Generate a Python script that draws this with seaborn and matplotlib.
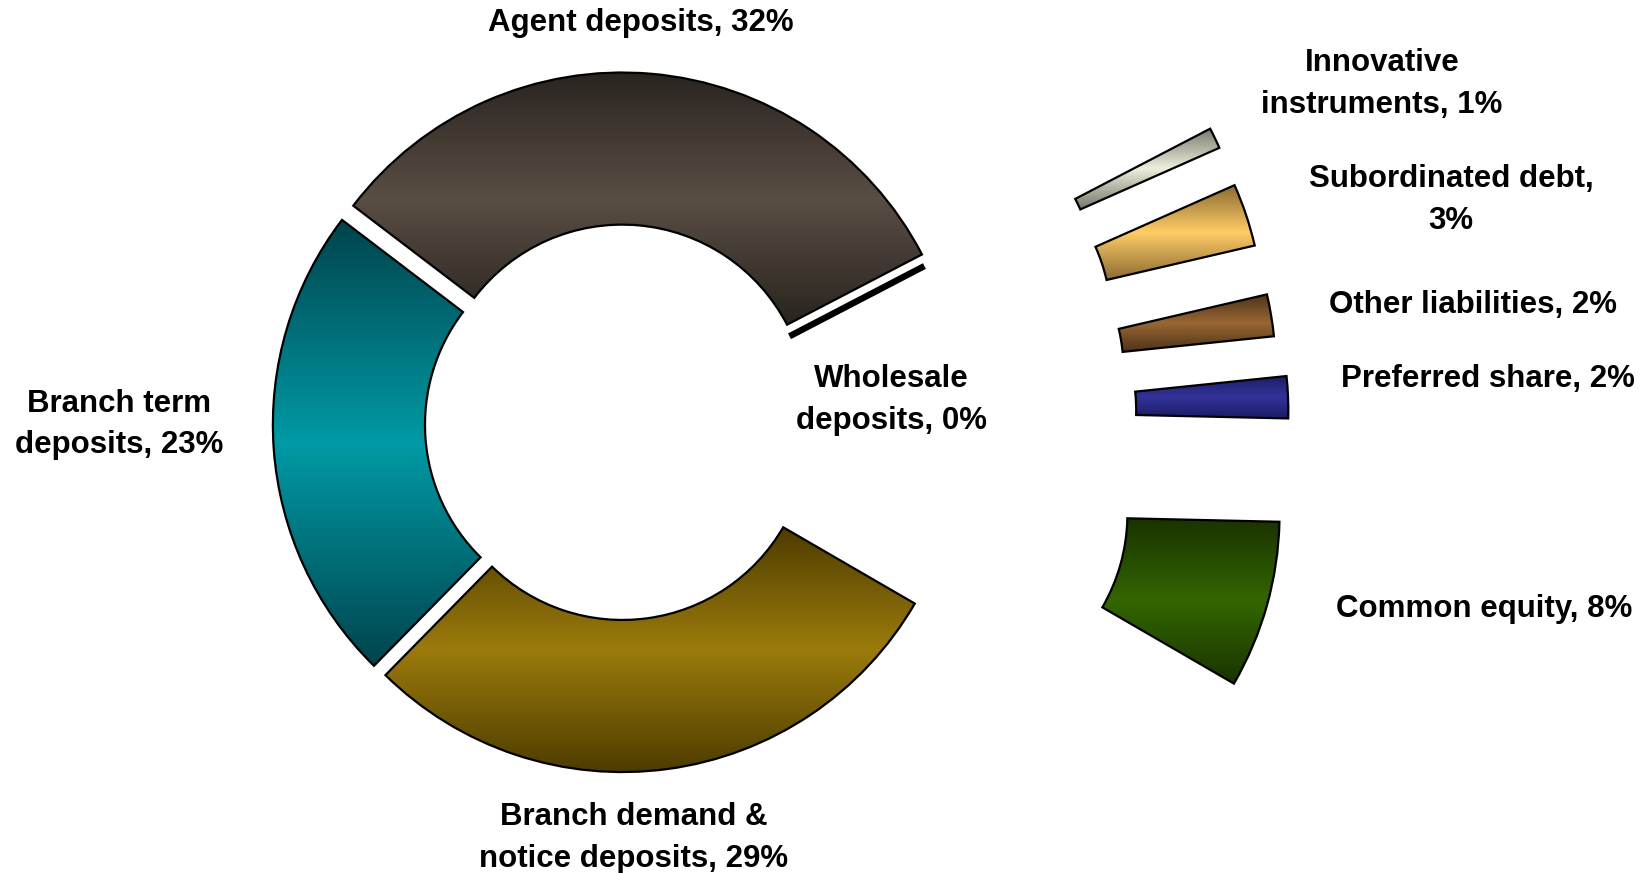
import numpy as np
import matplotlib
matplotlib.use("Agg")
import matplotlib.pyplot as plt
import seaborn as sns

# Funding mix, in percent (counter-clockwise from the wholesale line)
categories = [
    "Agent deposits",
    "Branch term deposits",
    "Branch demand & notice deposits",
    "Common equity",
    "Preferred share",
    "Other liabilities",
    "Subordinated debt",
    "Innovative instruments",
    "Wholesale deposits",
]
shares = [32, 23, 29, 8, 2, 2, 3, 1, 0]

# Where each label wraps onto a second line
wrapped = {
    "Branch term deposits": "Branch term\ndeposits",
    "Branch demand & notice deposits": "Branch demand &\nnotice deposits",
    "Innovative instruments": "Innovative\ninstruments",
    "Wholesale deposits": "Wholesale\ndeposits",
}
percent_on_new_line = {"Subordinated debt"}

# Slice shading: light middle, dark top and bottom
base_colors = ["#594e44", "#009aa6", "#9c7b0c", "#336600", "#333399",
               "#996633", "#ffcc66", "#eeeedd", "#000000"]
dark_colors = ["#2a241f", "#00444c", "#4d3c00", "#1a3300", "#1c1c66",
               "#4d3319", "#8a6b33", "#77776c", "#000000"]

explode = [0.04, 0.03, 0.03, 0.985, 0.975, 0.95, 0.95, 0.95, 0.012]

# Label anchors in axes fractions
label_pos = [
    (0.388, 0.974),
    (0.072, 0.514),
    (0.384, 0.040),
    (0.899, 0.302),
    (0.901, 0.566),
    (0.892, 0.651),
    (0.879, 0.771),
    (0.837, 0.904),
    (0.540, 0.542),
]

W, H = 1651, 873
R_PX = 338.0
CX, CY = 621.0, 424.0

sns.set_theme(style="white")
plt.rcParams["font.family"] = ["Liberation Sans", "DejaVu Sans"]

fig = plt.figure(figsize=(W / 100, H / 100), dpi=100)
fig.patch.set_facecolor("white")
ax = fig.add_axes([0, 0, 1, 1])

wedges, _ = ax.pie(
    shares,
    explode=explode,
    startangle=27.5,
    counterclock=True,
    radius=1.0,
    wedgeprops=dict(width=0.45, edgecolor="black", linewidth=1.6),
)

grad = np.linspace(0, 1, 256).reshape(-1, 1)
for w, base, dark in zip(wedges, base_colors, dark_colors):
    if w.theta2 - w.theta1 <= 1e-9:
        # zero-share slice is drawn as a thick radial stroke
        w.set_visible(False)
        t = np.deg2rad(w.theta1)
        cxw, cyw = w.center
        r0, r1 = w.r - w.width, w.r
        ax.plot([cxw + r0 * np.cos(t), cxw + r1 * np.cos(t)],
                [cyw + r0 * np.sin(t), cyw + r1 * np.sin(t)],
                color="black", lw=4.6, solid_capstyle="butt", zorder=3)
        continue
    ext = w.get_path().get_extents()
    cmap = sns.blend_palette([dark, base, dark], n_colors=256, as_cmap=True)
    im = ax.imshow(grad, cmap=cmap, extent=(ext.x0, ext.x1, ext.y0, ext.y1),
                   origin="lower", aspect="auto", interpolation="bilinear", zorder=1)
    im.set_clip_path(w)
    w.set_facecolor("none")
    w.set_zorder(2)

ax.set_xlim(-CX / R_PX, (W - CX) / R_PX)
ax.set_ylim(-(H - CY) / R_PX, CY / R_PX)
ax.set_aspect("auto")
ax.axis("off")

for name, val, (px, py) in zip(categories, shares, label_pos):
    text = wrapped.get(name, name)
    sep = ",\n" if name in percent_on_new_line else ", "
    ax.text(px, py, f"{text}{sep}{val}%", transform=ax.transAxes,
            ha="center", va="center", multialignment="center",
            fontsize=22.5, fontweight="bold", color="black", linespacing=1.5)

fig.savefig("out.png", dpi=100, facecolor="white")
